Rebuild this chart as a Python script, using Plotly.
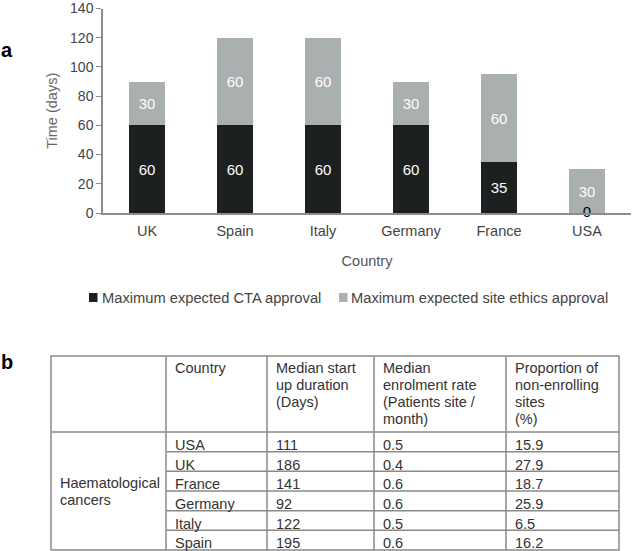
import plotly.graph_objects as go

# panel a data
countries = ["UK", "Spain", "Italy", "Germany", "France", "USA"]
cta_days = [60, 60, 60, 60, 35, 0]
ethics_days = [30, 60, 60, 30, 60, 30]
series_names = ["Maximum expected CTA approval", "Maximum expected site ethics approval"]

# panel b data
tbl_headers = ["", "Country", "Median start<br>up duration<br>(Days)",
               "Median<br>enrolment rate<br>(Patients site /<br>month)",
               "Proportion of<br>non-enrolling<br>sites<br>(%)"]
tbl_group = "Haematological<br>cancers"
tbl_countries = ["USA", "UK", "France", "Germany", "Italy", "Spain"]
tbl_startup = ["111", "186", "141", "92", "122", "195"]
tbl_enrol = ["0.5", "0.4", "0.6", "0.6", "0.5", "0.6"]
tbl_nonenrol = ["15.9", "27.9", "18.7", "25.9", "6.5", "16.2"]

W, H = 632, 551
FONT = "Arial"
DARK = "#1c2020"
LIGHT = "#a9b0af"
colors = [DARK, LIGHT]


def px(x):
    return x / W


def py(y):
    return 1 - y / H


fig = go.Figure()
for name, vals, col in zip(series_names, [cta_days, ethics_days], colors):
    fig.add_trace(go.Bar(
        x=countries, y=vals, name=name,
        marker=dict(color=col, line=dict(width=0)),
        text=[str(v) if v > 0 else "" for v in vals], textposition="inside",
        insidetextanchor="middle", textangle=0,
        textfont=dict(color="white", size=15, family=FONT), width=0.41,
        showlegend=False,
    ))
# zero-height labels sit on the axis
zero_x = [c for c, v in zip(countries, cta_days) if v == 0]
fig.add_trace(go.Scatter(
    x=zero_x, y=[0] * len(zero_x), mode="text", text=["0"] * len(zero_x),
    textposition="middle center", textfont=dict(color="black", size=15, family=FONT),
    showlegend=False, hoverinfo="skip", cliponaxis=False,
))

fig.update_layout(
    width=W, height=H, margin=dict(l=0, r=0, t=0, b=0),
    paper_bgcolor="white", plot_bgcolor="white",
    barmode="stack", bargap=0.59,
    font=dict(family=FONT, size=14, color="#444"),
    uniformtext=dict(minsize=15, mode="show"),
    xaxis=dict(domain=[px(103), px(631)], showline=True, linecolor="#8c8c8c",
               linewidth=1.5, ticks="", automargin=False, ticklabelstandoff=4,
               tickfont=dict(size=14.5, color="#444"),
               title=dict(text="Country", font=dict(size=14.5, color="#555"), standoff=18)),
    yaxis=dict(domain=[py(213), py(8.5)], range=[0, 140], dtick=20, showgrid=False,
               showline=True, linecolor="#8c8c8c", linewidth=1.5, ticks="outside",
               ticklen=5, tickcolor="#8c8c8c", automargin=False,
               ticklabeloverflow="allow", tickfont=dict(size=14, color="#444"),
               title=dict(text="Time (days)", font=dict(size=14.5, color="#666"), standoff=9),
               zeroline=False),
)

# legend drawn by hand so the swatch sits right next to its label
leg_x = [89, 339]
for lx, name, col in zip(leg_x, series_names, colors):
    fig.add_shape(type="rect", xref="paper", yref="paper", x0=px(lx), x1=px(lx + 8.5),
                  y0=py(302), y1=py(293), fillcolor=col, line=dict(width=0))
    fig.add_annotation(x=px(lx + 10.5), y=py(297.5), xref="paper", yref="paper", text=name,
                       showarrow=False, xanchor="left", yanchor="middle",
                       font=dict(size=14.7, color="#444"))

# panel labels
fig.add_annotation(x=px(-1), y=py(50), xref="paper", yref="paper", text="<b>a</b>",
                   showarrow=False, xanchor="left", yanchor="middle",
                   font=dict(size=20, color="black"))
fig.add_annotation(x=px(-1), y=py(362), xref="paper", yref="paper", text="<b>b</b>",
                   showarrow=False, xanchor="left", yanchor="middle",
                   font=dict(size=20, color="black"))

# table geometry (pixels)
col_edges = [51, 166, 267, 374, 506, 619]
top, head_bot, bottom = 356, 432, 550
row_h = (bottom - head_bot) / len(tbl_countries)
LC = "#8a8a8a"

fig.add_shape(type="rect", xref="paper", yref="paper", x0=px(col_edges[0]), x1=px(col_edges[-1]),
              y0=py(bottom), y1=py(top), line=dict(color=LC, width=1.5))
fig.add_shape(type="line", xref="paper", yref="paper", x0=px(col_edges[0]), x1=px(col_edges[-1]),
              y0=py(head_bot), y1=py(head_bot), line=dict(color=LC, width=1.5))
for xe in col_edges[1:-1]:
    fig.add_shape(type="line", xref="paper", yref="paper", x0=px(xe), x1=px(xe),
                  y0=py(bottom), y1=py(top), line=dict(color=LC, width=1.5))
for k in range(1, len(tbl_countries)):
    yy = head_bot + k * row_h
    fig.add_shape(type="line", xref="paper", yref="paper", x0=px(col_edges[1]), x1=px(col_edges[-1]),
                  y0=py(yy), y1=py(yy), line=dict(color=LC, width=1.5))

tfont = dict(size=14.5, color="#333", family=FONT)
line_gap = 17
for i, h in enumerate(tbl_headers):
    for n, part in enumerate(h.split("<br>") if h else []):
        fig.add_annotation(x=px(col_edges[i] + 7), y=py(top + 12 + n * line_gap),
                           xref="paper", yref="paper", text=part, showarrow=False,
                           xanchor="left", yanchor="middle", font=tfont)
mid = (head_bot + bottom) / 2
for n, part in enumerate(tbl_group.split("<br>")):
    fig.add_annotation(x=px(col_edges[0] + 7), y=py(mid - 8 + n * line_gap), xref="paper",
                       yref="paper", text=part, showarrow=False, xanchor="left",
                       yanchor="middle", font=tfont)
columns = [tbl_countries, tbl_startup, tbl_enrol, tbl_nonenrol]
for j, col in enumerate(columns):
    for r, val in enumerate(col):
        yc = head_bot + (r + 0.5) * row_h + 3
        fig.add_annotation(x=px(col_edges[j + 1] + 7), y=py(yc), xref="paper", yref="paper",
                           text=val, showarrow=False, xanchor="left", yanchor="middle",
                           font=tfont)

fig.write_html("out.html", config={"displayModeBar": False},
               post_script="document.body.style.margin='0';")
